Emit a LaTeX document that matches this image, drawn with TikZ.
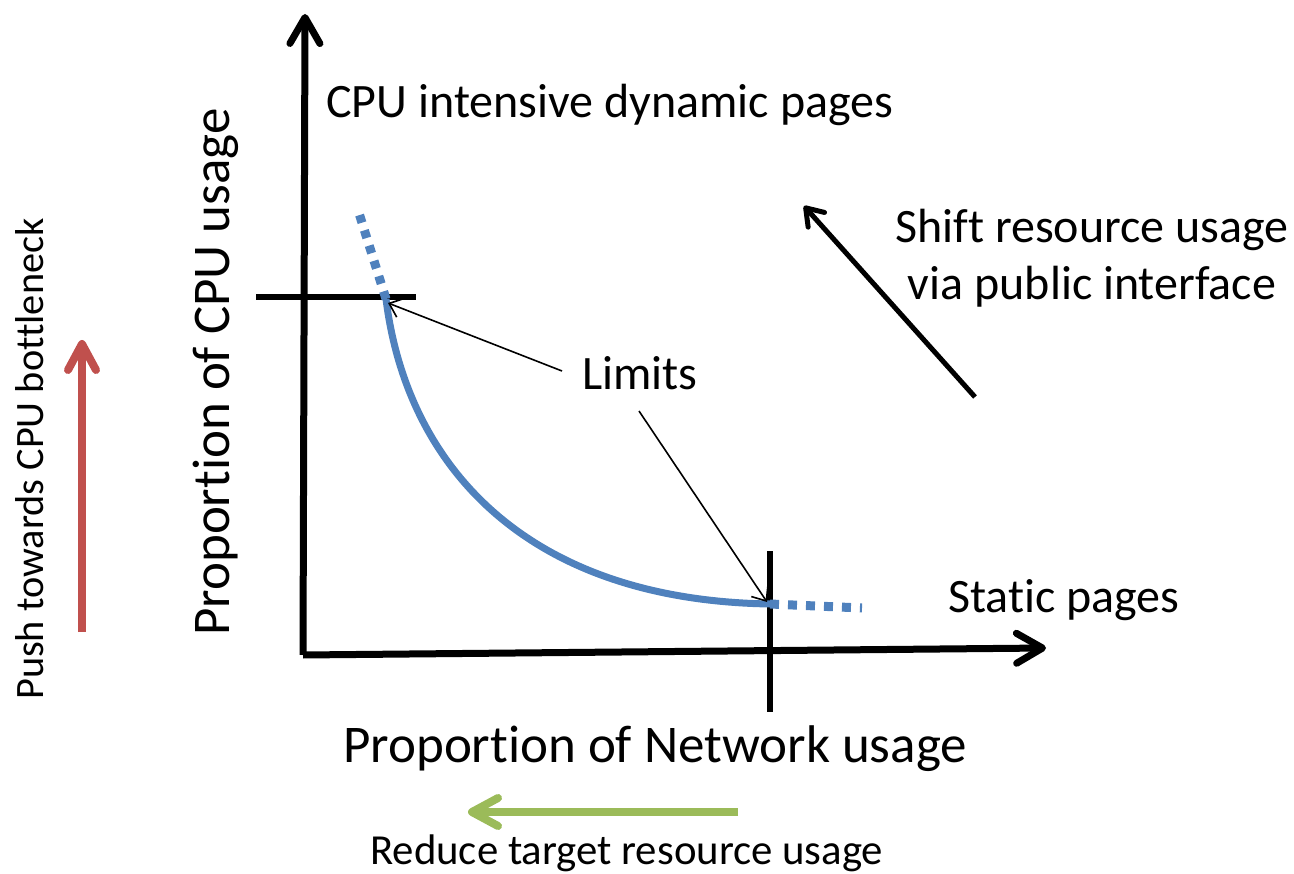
\documentclass[tikz,border=0pt]{standalone}
\usepackage{fontspec}
\setmainfont{Carlito}[RawFeature={-liga;-clig;-calt;-dlig}]
\usetikzlibrary{arrows.meta}
\definecolor{curveblue}{HTML}{4F81BD}
\definecolor{pushred}{HTML}{C0504D}
\definecolor{reducegreen}{HTML}{9BBB59}
% break the t-i glyph join of the font
\newcommand{\nolig}{\kern0pt{}}
\tikzset{
  axis/.style={line width=7pt, -{Straight Barb[round,length=26pt,width=30pt]}},
  bigarrow/.style={line width=8pt, -{Straight Barb[round,length=26pt,width=28pt]}},
  limitbar/.style={line width=6pt},
  pointer/.style={line width=1.6pt, -{Straight Barb[length=12pt,width=20pt]}},
  label/.style={inner sep=0pt, font=\fontsize{48}{57}\selectfont},
  biglabel/.style={inner sep=0pt, font=\fontsize{53}{60}\selectfont},
  pushlabel/.style={inner sep=0pt, font=\fontsize{40.3}{48}\selectfont},
  reducelabel/.style={inner sep=0pt, font=\fontsize{42.8}{50}\selectfont},
}
\begin{document}
\begin{tikzpicture}[x=1pt,y=-1pt]
\useasboundingbox (0,0) rectangle (1294,874);

% axes
\coordinate (origin) at (303,655);
\coordinate (ytop) at (305,14);
\coordinate (xend) at (1046,648);
\draw[axis] (origin) -- (ytop);
\draw[axis] (origin) -- (xend);

% limit bars
\coordinate (hbarL) at (256,297);
\coordinate (hbarR) at (416,297);
\coordinate (vbarT) at (770,551);
\coordinate (vbarB) at (770,712);
\draw[limitbar] (hbarL) -- (hbarR);
\draw[limitbar] (vbarT) -- (vbarB);

% trade-off curve
\coordinate (limA) at (386,299);
\coordinate (limB) at (770,604);
\coordinate (dotA) at (358,210);
\coordinate (dotB) at (862,608);
\draw[curveblue, line width=7pt] (limA) .. controls (406,460) and (520,600) .. (limB);
\draw[curveblue, line width=9pt, dash pattern=on 8pt off 8pt] (limA) -- (dotA);
\draw[curveblue, line width=9pt, dash pattern=on 9pt off 9pt] (limB) -- (dotB);

% labels
\node[label, anchor=base west] (cpupages) at (326,118) {CPU intensive dynamic pages};
\node[label, anchor=base, align=center] (shift) at (1092,300) {Shift resource usage\\via public interface};
\node[label, anchor=base west] (limits) at (582,390) {Limits};
\node[label, anchor=base west] (static) at (948,612) {Stat\nolig ic pages};
\node[biglabel, anchor=base west] (netusage) at (343,762) {Proport\nolig ion of Network usage};
\node[biglabel, anchor=base west, rotate=90] (cpuusage) at (229,636) {Proport\nolig ion of CPU usage};
\node[pushlabel, anchor=base west, rotate=90] (push) at (43,700) {Push towards CPU bottleneck};
\node[reducelabel, anchor=base west] (reduce) at (370,864) {Reduce target resource usage};

% pointers to the limits
\coordinate (limAtip) at (388,303);
\coordinate (limBtip) at (767,602);
\coordinate (ptrA) at (562,371);
\coordinate (ptrB) at (639,411);
\draw[pointer] (ptrA) -- (limAtip);
\draw[pointer] (ptrB) -- (limBtip);

% direction arrows
\coordinate (shiftS) at (975,397);
\coordinate (shiftE) at (804,206);
\draw[line width=5pt, -{Straight Barb[round,length=16pt,width=22pt]}] (shiftS) -- (shiftE);
\coordinate (pushS) at (82,632);
\coordinate (pushE) at (82,340);
\draw[bigarrow, pushred] (pushS) -- (pushE);
\coordinate (reduceS) at (738,812);
\coordinate (reduceE) at (468,812);
\draw[bigarrow, reducegreen] (reduceS) -- (reduceE);
\end{tikzpicture}
\end{document}
